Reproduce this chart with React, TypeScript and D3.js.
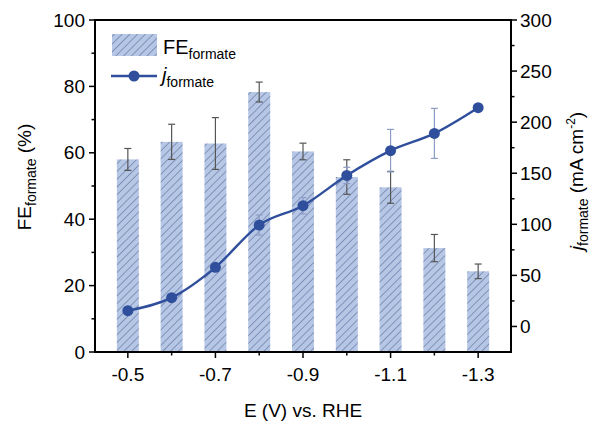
import React from "react";
import * as d3 from "d3";

const potentials = [-0.5, -0.6, -0.7, -0.8, -0.9, -1.0, -1.1, -1.2, -1.3];
const feValues = [58.0, 63.3, 62.8, 78.3, 60.4, 52.7, 49.6, 31.3, 24.3];
const feErrors = [3.3, 5.3, 7.8, 3.0, 2.5, 5.2, 4.8, 4.1, 2.2];
const jValues = [15.4, 28.2, 57.9, 99.3, 118.2, 147.8, 172.1, 189.0, 214.2];
const jErrors = [0, 0, 2.5, 9.8, 8, 8, 20.8, 24.5, 0];
const xMajorTicks = [-0.5, -0.7, -0.9, -1.1, -1.3];
const xMinorTicks = [-0.6, -0.8, -1.0, -1.2];
const leftTicks = [0, 20, 40, 60, 80, 100];
const rightTicks = [0, 50, 100, 150, 200, 250, 300];

const W = 592, H = 427;
const L = 95, R = 511, T = 20, B = 352;
const FONT = "Liberation Sans, Arial, sans-serif";

export default function App() {
  const x = d3.scaleLinear().domain([-0.425, -1.375]).range([L, R]);
  const yL = d3.scaleLinear().domain([0, 100]).range([B, T]);
  const yR = d3.scaleLinear().domain([-25, 300]).range([B, T]);
  const barW = 22;
  const lineGen = d3
    .line<number>()
    .x((_, i) => x(potentials[i]))
    .y((d) => yR(d))
    .curve(d3.curveMonotoneX);
  const leftMinor = d3.range(10, 100, 20);
  const rightMinor = d3.range(25, 300, 50);

  return (
    <svg width={W} height={H} style={{ position: "absolute", left: 0, top: 0 }} fontFamily={FONT}>
      <defs>
        <pattern id="hatch" patternUnits="userSpaceOnUse" width="5.5" height="5.5" patternTransform="rotate(45)">
          <rect width="5.5" height="5.5" fill="#b6c6e5" />
          <line x1="0" y1="0" x2="0" y2="5.5" stroke="#3e5385" strokeWidth="0.9" />
        </pattern>
      </defs>
      <rect width={W} height={H} fill="#fff" />

      {/* bars */}
      {potentials.map((p, i) => (
        <rect
          key={"b" + i}
          x={x(p) - barW / 2}
          y={yL(feValues[i])}
          width={barW}
          height={B - yL(feValues[i])}
          fill="url(#hatch)"
        />
      ))}
      {/* bar error bars */}
      {potentials.map((p, i) => {
        const cx = x(p);
        const y1 = yL(feValues[i] + feErrors[i]);
        const y2 = yL(feValues[i] - feErrors[i]);
        return (
          <g key={"be" + i} stroke="#555" strokeWidth={1.2}>
            <line x1={cx} x2={cx} y1={y1} y2={y2} />
            <line x1={cx - 3.5} x2={cx + 3.5} y1={y1} y2={y1} />
            <line x1={cx - 3.5} x2={cx + 3.5} y1={y2} y2={y2} />
          </g>
        );
      })}

      {/* line error bars */}
      {potentials.map((p, i) => {
        if (!jErrors[i]) return null;
        const cx = x(p);
        const y1 = yR(jValues[i] + jErrors[i]);
        const y2 = yR(jValues[i] - jErrors[i]);
        return (
          <g key={"je" + i} stroke="#8c9cc4" strokeWidth={1.2}>
            <line x1={cx} x2={cx} y1={y1} y2={y2} />
            <line x1={cx - 3.5} x2={cx + 3.5} y1={y1} y2={y1} />
            <line x1={cx - 3.5} x2={cx + 3.5} y1={y2} y2={y2} />
          </g>
        );
      })}
      <path d={lineGen(jValues) || ""} fill="none" stroke="#2f4f9c" strokeWidth={2.4} />
      {potentials.map((p, i) => (
        <circle key={"c" + i} cx={x(p)} cy={yR(jValues[i])} r={5.5} fill="#2f4f9c" />
      ))}

      {/* frame */}
      <g stroke="#000" strokeWidth={2} fill="none">
        <line x1={L} x2={R} y1={T} y2={T} />
        <line x1={L} x2={R} y1={B} y2={B} />
        <line x1={L} x2={L} y1={T - 1} y2={B + 1} />
        <line x1={R} x2={R} y1={T - 1} y2={B + 1} />
      </g>

      {/* left axis */}
      {leftTicks.map((t) => (
        <g key={"lt" + t}>
          <line x1={L - 6} x2={L} y1={yL(t)} y2={yL(t)} stroke="#000" strokeWidth={1.5} />
          <text x={L - 10} y={yL(t)} dy="0.35em" textAnchor="end" fontSize={19}>
            {t}
          </text>
        </g>
      ))}
      {leftMinor.map((t) => (
        <line key={"lm" + t} x1={L - 3.5} x2={L} y1={yL(t)} y2={yL(t)} stroke="#000" strokeWidth={1.5} />
      ))}

      {/* right axis */}
      {rightTicks.map((t) => (
        <g key={"rt" + t}>
          <line x1={R} x2={R + 6} y1={yR(t)} y2={yR(t)} stroke="#000" strokeWidth={1.5} />
          <text x={R + 9} y={yR(t)} dy="0.35em" textAnchor="start" fontSize={19}>
            {t}
          </text>
        </g>
      ))}
      {rightMinor.map((t) => (
        <line key={"rm" + t} x1={R} x2={R + 3.5} y1={yR(t)} y2={yR(t)} stroke="#000" strokeWidth={1.5} />
      ))}

      {/* bottom axis */}
      {xMajorTicks.map((t) => (
        <g key={"xt" + t}>
          <line x1={x(t)} x2={x(t)} y1={B} y2={B + 6} stroke="#000" strokeWidth={1.5} />
          <text x={x(t)} y={B + 29} textAnchor="middle" fontSize={19}>
            {t.toFixed(1)}
          </text>
        </g>
      ))}
      {xMinorTicks.map((t) => (
        <line key={"xm" + t} x1={x(t)} x2={x(t)} y1={B} y2={B + 3.5} stroke="#000" strokeWidth={1.5} />
      ))}

      {/* axis titles */}
      <text x={(L + R) / 2} y={417} textAnchor="middle" fontSize={19}>
        E (V) vs. RHE
      </text>
      <text transform={`translate(31,177) rotate(-90)`} textAnchor="middle" fontSize={19}>
        FE<tspan fontSize={14} dy={5}>formate</tspan>
        <tspan dy={-5}> (%)</tspan>
      </text>
      <text transform={`translate(583,181) rotate(-90)`} textAnchor="middle" fontSize={19}>
        <tspan fontStyle="italic">j</tspan>
        <tspan fontSize={14} dy={5}>formate</tspan>
        <tspan dy={-5}> (mA cm</tspan>
        <tspan fontSize={12} dy={-8}>-2</tspan>
        <tspan dy={8}>)</tspan>
      </text>

      {/* legend */}
      <rect x={112} y={34} width={45} height={22} fill="url(#hatch)" />
      <text x={163} y={54} fontSize={20}>
        FE<tspan fontSize={14} dy={5}>formate</tspan>
      </text>
      <line x1={111} x2={157} y1={76} y2={76} stroke="#2f4f9c" strokeWidth={2.4} />
      <circle cx={134} cy={76} r={5.5} fill="#2f4f9c" />
      <text x={162} y={82} fontSize={20}>
        <tspan fontStyle="italic">j</tspan>
        <tspan fontSize={14} dy={5}>formate</tspan>
      </text>
    </svg>
  );
}
